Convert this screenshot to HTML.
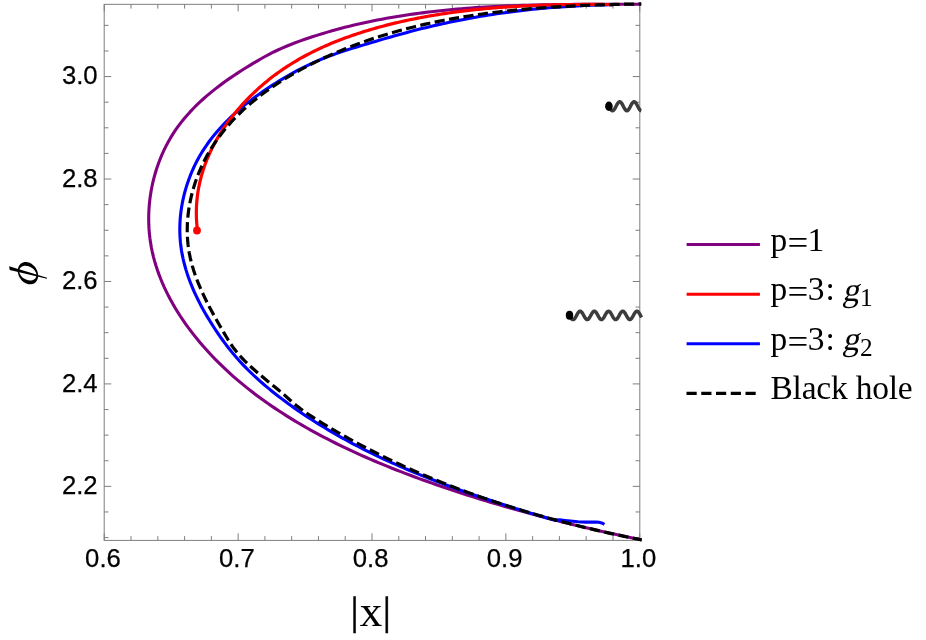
<!DOCTYPE html>
<html><head><meta charset="utf-8"><title>plot</title>
<style>
html,body{margin:0;padding:0;background:#fff;}
body{width:926px;height:640px;overflow:hidden;}
svg{display:block;}
.t{font-family:"Liberation Sans",sans-serif;fill:#000;stroke:#000;stroke-width:0.25px;}
.s{font-family:"Liberation Serif",serif;fill:#000;}
</style></head><body>
<svg width="926" height="640" viewBox="0 0 926 640">
<rect width="926" height="640" fill="#fff"/>
<g stroke="#7e7e7e" stroke-width="1" fill="none">
<rect x="104.20" y="4.33" width="535.60" height="536.07"/>
<path d="M104.26 540.40 v-7.10 M104.26 4.33 v7.10 M131.03 540.40 v-4.30 M131.03 4.33 v4.30 M157.81 540.40 v-4.30 M157.81 4.33 v4.30 M184.58 540.40 v-4.30 M184.58 4.33 v4.30 M211.36 540.40 v-4.30 M211.36 4.33 v4.30 M238.13 540.40 v-7.10 M238.13 4.33 v7.10 M264.90 540.40 v-4.30 M264.90 4.33 v4.30 M291.68 540.40 v-4.30 M291.68 4.33 v4.30 M318.45 540.40 v-4.30 M318.45 4.33 v4.30 M345.23 540.40 v-4.30 M345.23 4.33 v4.30 M372.00 540.40 v-7.10 M372.00 4.33 v7.10 M398.77 540.40 v-4.30 M398.77 4.33 v4.30 M425.55 540.40 v-4.30 M425.55 4.33 v4.30 M452.32 540.40 v-4.30 M452.32 4.33 v4.30 M479.10 540.40 v-4.30 M479.10 4.33 v4.30 M505.87 540.40 v-7.10 M505.87 4.33 v7.10 M532.64 540.40 v-4.30 M532.64 4.33 v4.30 M559.42 540.40 v-4.30 M559.42 4.33 v4.30 M586.19 540.40 v-4.30 M586.19 4.33 v4.30 M612.97 540.40 v-4.30 M612.97 4.33 v4.30 M639.74 540.40 v-7.10 M639.74 4.33 v7.10 M104.20 537.57 h4.30 M639.80 537.57 h-4.30 M104.20 511.96 h4.30 M639.80 511.96 h-4.30 M104.20 486.35 h7.10 M639.80 486.35 h-7.10 M104.20 460.74 h4.30 M639.80 460.74 h-4.30 M104.20 435.13 h4.30 M639.80 435.13 h-4.30 M104.20 409.52 h4.30 M639.80 409.52 h-4.30 M104.20 383.91 h7.10 M639.80 383.91 h-7.10 M104.20 358.30 h4.30 M639.80 358.30 h-4.30 M104.20 332.69 h4.30 M639.80 332.69 h-4.30 M104.20 307.08 h4.30 M639.80 307.08 h-4.30 M104.20 281.47 h7.10 M639.80 281.47 h-7.10 M104.20 255.86 h4.30 M639.80 255.86 h-4.30 M104.20 230.25 h4.30 M639.80 230.25 h-4.30 M104.20 204.64 h4.30 M639.80 204.64 h-4.30 M104.20 179.03 h7.10 M639.80 179.03 h-7.10 M104.20 153.42 h4.30 M639.80 153.42 h-4.30 M104.20 127.81 h4.30 M639.80 127.81 h-4.30 M104.20 102.20 h4.30 M639.80 102.20 h-4.30 M104.20 76.59 h7.10 M639.80 76.59 h-7.10 M104.20 50.98 h4.30 M639.80 50.98 h-4.30 M104.20 25.37 h4.30 M639.80 25.37 h-4.30"/>
</g>
<g fill="none" stroke-linecap="butt" stroke-linejoin="round">
<path d="M641.28 4.21 L636.56 4.23 L631.84 4.24 L627.11 4.25 L622.38 4.26 L617.65 4.27 L612.93 4.28 L608.19 4.29 L603.46 4.30 L598.73 4.31 L594.00 4.32 L589.27 4.34 L584.53 4.36 L579.80 4.39 L575.06 4.42 L570.33 4.46 L565.59 4.51 L560.86 4.56 L556.12 4.63 L551.39 4.70 L546.65 4.78 L541.92 4.87 L537.19 4.97 L532.45 5.09 L527.72 5.21 L522.99 5.35 L518.26 5.51 L513.53 5.68 L508.80 5.86 L504.07 6.06 L499.35 6.28 L494.62 6.51 L489.90 6.76 L485.18 7.04 L480.46 7.33 L475.74 7.64 L471.03 7.97 L466.31 8.32 L461.60 8.70 L456.89 9.10 L452.18 9.52 L447.48 9.97 L442.77 10.44 L438.07 10.94 L433.38 11.46 L428.68 12.01 L423.99 12.59 L419.30 13.20 L414.61 13.84 L409.93 14.50 L405.25 15.20 L400.58 15.93 L395.90 16.69 L391.24 17.49 L386.57 18.31 L381.92 19.17 L377.27 20.07 L372.62 21.00 L367.98 21.97 L363.35 22.97 L358.73 24.01 L354.12 25.08 L349.52 26.20 L344.92 27.35 L340.34 28.55 L335.77 29.78 L331.21 31.05 L326.66 32.37 L322.12 33.73 L317.60 35.13 L313.09 36.57 L308.60 38.06 L304.12 39.59 L299.65 41.16 L295.22 42.80 L290.81 44.49 L286.45 46.24 L282.13 48.07 L277.87 49.98 L273.68 51.98 L269.56 54.08 L265.50 56.25 L261.47 58.50 L257.47 60.81 L253.47 63.17 L249.47 65.58 L245.48 68.03 L241.50 70.54 L237.53 73.09 L233.59 75.70 L229.67 78.37 L225.79 81.09 L221.95 83.87 L218.15 86.72 L214.40 89.63 L210.71 92.60 L207.08 95.64 L203.52 98.75 L200.03 101.94 L196.62 105.19 L193.29 108.53 L190.06 111.94 L186.92 115.43 L183.88 119.00 L180.94 122.65 L178.12 126.39 L175.42 130.22 L172.84 134.14 L170.38 138.14 L168.06 142.23 L165.86 146.40 L163.79 150.63 L161.85 154.94 L160.04 159.31 L158.36 163.73 L156.81 168.21 L155.39 172.73 L154.11 177.30 L152.96 181.90 L151.95 186.54 L151.07 191.20 L150.33 195.89 L149.73 200.59 L149.26 205.30 L148.93 210.02 L148.74 214.75 L148.69 219.47 L148.79 224.18 L149.02 228.88 L149.40 233.56 L149.92 238.22 L150.58 242.85 L151.38 247.45 L152.32 252.02 L153.40 256.56 L154.60 261.07 L155.93 265.54 L157.38 269.98 L158.95 274.38 L160.64 278.75 L162.44 283.08 L164.34 287.37 L166.35 291.61 L168.45 295.82 L170.66 299.99 L172.95 304.11 L175.34 308.19 L177.81 312.22 L180.36 316.21 L182.99 320.15 L185.69 324.04 L188.46 327.88 L191.30 331.67 L194.21 335.41 L197.17 339.09 L200.19 342.73 L203.26 346.31 L206.39 349.84 L209.57 353.32 L212.80 356.75 L216.08 360.13 L219.41 363.45 L222.79 366.73 L226.22 369.97 L229.69 373.15 L233.20 376.29 L236.76 379.38 L240.35 382.42 L243.99 385.42 L247.67 388.38 L251.38 391.29 L255.13 394.16 L258.92 396.98 L262.73 399.76 L266.58 402.50 L270.47 405.20 L274.38 407.86 L278.32 410.48 L282.28 413.06 L286.27 415.60 L290.29 418.10 L294.33 420.56 L298.39 422.99 L302.47 425.38 L306.58 427.73 L310.70 430.05 L314.84 432.33 L319.00 434.58 L323.17 436.80 L327.37 438.98 L331.58 441.13 L335.80 443.25 L340.04 445.34 L344.30 447.40 L348.57 449.43 L352.86 451.43 L357.16 453.40 L361.47 455.34 L365.80 457.25 L370.14 459.14 L374.49 461.00 L378.85 462.84 L383.22 464.65 L387.60 466.44 L392.00 468.21 L396.40 469.95 L400.81 471.67 L405.23 473.37 L409.66 475.04 L414.09 476.70 L418.53 478.34 L422.98 479.95 L427.44 481.55 L431.90 483.13 L436.36 484.70 L440.83 486.24 L445.30 487.77 L449.78 489.29 L454.27 490.79 L458.75 492.27 L463.25 493.73 L467.74 495.18 L472.25 496.61 L476.75 498.03 L481.26 499.43 L485.78 500.82 L490.30 502.19 L494.82 503.54 L499.35 504.88 L503.88 506.21 L508.42 507.52 L512.96 508.82 L517.51 510.10 L522.06 511.37 L526.61 512.63 L531.17 513.87 L535.73 515.09 L540.30 516.31 L544.87 517.51 L549.45 518.70 L554.03 519.87 L558.61 521.03 L563.20 522.18 L567.79 523.32 L572.38 524.44 L576.98 525.55 L581.58 526.65 L586.19 527.74 L590.80 528.81 L595.41 529.88 L600.03 530.93 L604.65 531.97 L609.27 533.00 L613.90 534.02 L618.54 535.02 L623.17 536.02 L627.81 537.01 L632.45 537.98 L637.10 538.95 L641.75 539.91" stroke="#800080" stroke-width="3.10"/>
<path d="M612.99 4.72 L608.97 4.78 L604.96 4.85 L600.94 4.94 L596.92 5.05 L592.90 5.18 L588.88 5.32 L584.87 5.49 L580.85 5.67 L576.83 5.87 L572.81 6.09 L568.80 6.33 L564.78 6.58 L560.77 6.86 L556.75 7.15 L552.74 7.46 L548.73 7.79 L544.72 8.14 L540.71 8.51 L536.71 8.90 L532.70 9.30 L528.70 9.73 L524.70 10.17 L520.70 10.63 L516.70 11.12 L512.71 11.62 L508.72 12.14 L504.73 12.68 L500.75 13.24 L496.77 13.82 L492.79 14.42 L488.81 15.03 L484.84 15.67 L480.87 16.33 L476.91 17.01 L472.95 17.70 L468.99 18.42 L465.04 19.16 L461.09 19.92 L457.15 20.69 L453.21 21.49 L449.28 22.31 L445.35 23.15 L441.42 24.00 L437.50 24.88 L433.59 25.78 L429.68 26.70 L425.77 27.64 L421.88 28.60 L417.98 29.58 L414.09 30.58 L410.21 31.60 L406.33 32.63 L402.45 33.68 L398.58 34.74 L394.71 35.82 L390.84 36.91 L386.97 38.02 L383.11 39.13 L379.24 40.26 L375.38 41.40 L371.51 42.54 L367.65 43.70 L363.78 44.86 L359.92 46.02 L356.05 47.20 L352.19 48.39 L348.33 49.59 L344.49 50.82 L340.66 52.09 L336.84 53.38 L333.05 54.72 L329.28 56.10 L325.53 57.54 L321.82 59.03 L318.13 60.58 L314.47 62.18 L310.84 63.83 L307.24 65.54 L303.66 67.29 L300.11 69.10 L296.58 70.95 L293.07 72.85 L289.58 74.79 L286.12 76.78 L282.67 78.81 L279.25 80.88 L275.84 83.00 L272.45 85.15 L269.08 87.34 L265.73 89.58 L262.40 91.85 L259.10 94.16 L255.83 96.52 L252.59 98.92 L249.38 101.36 L246.21 103.85 L243.08 106.39 L239.99 108.97 L236.95 111.60 L233.96 114.28 L231.02 117.01 L228.14 119.79 L225.31 122.63 L222.54 125.52 L219.84 128.46 L217.20 131.45 L214.64 134.51 L212.14 137.62 L209.72 140.78 L207.38 144.01 L205.12 147.30 L202.94 150.65 L200.85 154.06 L198.85 157.53 L196.94 161.06 L195.12 164.65 L193.40 168.28 L191.77 171.97 L190.24 175.70 L188.81 179.48 L187.48 183.29 L186.25 187.14 L185.12 191.01 L184.09 194.92 L183.17 198.85 L182.36 202.79 L181.66 206.76 L181.06 210.74 L180.58 214.73 L180.21 218.73 L179.96 222.73 L179.82 226.72 L179.80 230.72 L179.90 234.71 L180.12 238.68 L180.46 242.64 L180.92 246.59 L181.49 250.52 L182.18 254.42 L182.98 258.31 L183.89 262.18 L184.90 266.03 L186.00 269.85 L187.20 273.65 L188.49 277.43 L189.87 281.18 L191.33 284.91 L192.86 288.61 L194.47 292.28 L196.16 295.92 L197.91 299.53 L199.72 303.12 L201.59 306.67 L203.52 310.19 L205.50 313.67 L207.53 317.12 L209.60 320.54 L211.71 323.92 L213.86 327.26 L216.04 330.56 L218.24 333.83 L220.48 337.06 L222.74 340.24 L225.04 343.39 L227.39 346.50 L229.79 349.57 L232.24 352.60 L234.75 355.59 L237.32 358.54 L239.94 361.46 L242.62 364.34 L245.34 367.18 L248.12 369.99 L250.95 372.76 L253.83 375.50 L256.76 378.21 L259.73 380.87 L262.74 383.51 L265.79 386.11 L268.87 388.68 L271.99 391.22 L275.14 393.73 L278.32 396.20 L281.52 398.64 L284.74 401.06 L287.99 403.44 L291.25 405.80 L294.53 408.12 L297.82 410.42 L301.13 412.69 L304.46 414.93 L307.80 417.14 L311.16 419.32 L314.53 421.48 L317.91 423.61 L321.31 425.72 L324.73 427.80 L328.16 429.85 L331.60 431.88 L335.05 433.88 L338.52 435.86 L342.00 437.81 L345.50 439.75 L349.01 441.65 L352.53 443.54 L356.06 445.40 L359.60 447.23 L363.16 449.05 L366.73 450.85 L370.30 452.62 L373.89 454.37 L377.49 456.10 L381.10 457.81 L384.73 459.50 L388.36 461.17 L392.00 462.82 L395.65 464.45 L399.31 466.07 L402.98 467.66 L406.66 469.24 L410.34 470.80 L414.04 472.34 L417.74 473.86 L421.46 475.37 L425.18 476.86 L428.90 478.34 L432.64 479.80 L436.38 481.24 L440.13 482.67 L443.89 484.08 L447.65 485.48 L451.42 486.87 L455.19 488.24 L458.97 489.60 L462.76 490.95 L466.55 492.28 L470.35 493.60 L474.15 494.91 L477.96 496.21 L481.77 497.50 L485.58 498.77 L489.40 500.04 L493.23 501.29 L497.05 502.54 L500.88 503.77 L504.72 505.00 L508.55 506.22 L512.39 507.43 L516.23 508.63 L520.08 509.82 L523.92 511.01 L527.77 512.18 L531.62 513.36 L535.47 514.52 L539.32 515.68 L543.17 516.83 L547.02 517.98 L550.88 519.13 L554.73 520.26 L559.70 519.90 L565.00 520.50 L570.30 521.00 L578.00 521.70 L585.50 522.10 L591.00 522.10 L596.00 522.00 L599.00 522.30 L601.50 522.90 L603.30 523.70 L604.40 524.40" stroke="#0000ff" stroke-width="3.10"/>
<path d="M612.99 4.55 L610.93 4.53 L608.87 4.52 L606.81 4.50 L604.75 4.49 L602.69 4.47 L600.63 4.46 L598.57 4.46 L596.51 4.45 L594.44 4.45 L592.38 4.44 L590.32 4.44 L588.26 4.45 L586.20 4.45 L584.13 4.46 L582.07 4.47 L580.01 4.48 L577.95 4.50 L575.88 4.51 L573.82 4.53 L571.76 4.56 L569.69 4.58 L567.63 4.61 L565.57 4.64 L563.51 4.67 L561.44 4.71 L559.38 4.75 L557.32 4.79 L555.25 4.84 L553.19 4.89 L551.13 4.94 L549.06 5.00 L547.00 5.06 L544.94 5.12 L542.87 5.19 L540.81 5.26 L538.75 5.33 L536.69 5.41 L534.62 5.49 L532.56 5.57 L530.50 5.66 L528.44 5.76 L526.38 5.85 L524.32 5.95 L522.26 6.06 L520.20 6.17 L518.14 6.28 L516.08 6.40 L514.02 6.52 L511.96 6.64 L509.90 6.78 L507.84 6.91 L505.78 7.05 L503.73 7.19 L501.67 7.34 L499.61 7.50 L497.56 7.65 L495.50 7.82 L493.44 7.98 L491.39 8.16 L489.34 8.34 L487.28 8.52 L485.23 8.71 L483.18 8.90 L481.12 9.10 L479.07 9.30 L477.02 9.51 L474.97 9.73 L472.92 9.95 L470.87 10.17 L468.83 10.40 L466.78 10.64 L464.73 10.88 L462.69 11.13 L460.64 11.38 L458.60 11.64 L456.55 11.91 L454.51 12.18 L452.47 12.46 L450.43 12.74 L448.39 13.03 L446.35 13.33 L444.31 13.63 L442.27 13.94 L440.23 14.25 L438.20 14.58 L436.16 14.90 L434.13 15.24 L432.09 15.58 L430.06 15.93 L428.03 16.28 L426.00 16.64 L423.97 17.01 L421.94 17.39 L419.91 17.77 L417.89 18.16 L415.86 18.56 L413.84 18.96 L411.82 19.37 L409.80 19.79 L407.78 20.22 L405.76 20.65 L403.74 21.09 L401.73 21.54 L399.72 22.00 L397.71 22.46 L395.70 22.93 L393.69 23.41 L391.68 23.90 L389.68 24.40 L387.68 24.91 L385.68 25.42 L383.68 25.94 L381.69 26.47 L379.70 27.01 L377.71 27.56 L375.72 28.12 L373.74 28.69 L371.75 29.26 L369.77 29.85 L367.80 30.44 L365.82 31.04 L363.85 31.65 L361.88 32.28 L359.92 32.91 L357.95 33.55 L355.99 34.20 L354.04 34.86 L352.09 35.53 L350.14 36.21 L348.19 36.90 L346.25 37.60 L344.31 38.31 L342.38 39.03 L340.45 39.77 L338.53 40.51 L336.61 41.27 L334.69 42.04 L332.78 42.81 L330.88 43.60 L328.98 44.41 L327.09 45.22 L325.20 46.05 L323.32 46.89 L321.45 47.74 L319.58 48.61 L317.72 49.48 L315.86 50.37 L314.01 51.28 L312.17 52.19 L310.34 53.12 L308.51 54.06 L306.69 55.02 L304.88 55.99 L303.08 56.97 L301.28 57.97 L299.50 58.98 L297.72 60.00 L295.95 61.04 L294.19 62.09 L292.44 63.16 L290.69 64.24 L288.96 65.33 L287.23 66.44 L285.52 67.56 L283.81 68.70 L282.12 69.85 L280.43 71.02 L278.76 72.20 L277.09 73.40 L275.44 74.61 L273.80 75.84 L272.17 77.08 L270.54 78.34 L268.93 79.61 L267.34 80.90 L265.75 82.20 L264.17 83.52 L262.61 84.85 L261.06 86.20 L259.52 87.56 L257.99 88.93 L256.47 90.32 L254.97 91.72 L253.48 93.14 L252.00 94.57 L250.54 96.01 L249.09 97.47 L247.65 98.94 L246.22 100.42 L244.81 101.91 L243.41 103.42 L242.02 104.94 L240.65 106.47 L239.29 108.02 L237.95 109.57 L236.62 111.14 L235.31 112.72 L234.01 114.31 L232.73 115.92 L231.46 117.54 L230.21 119.16 L228.98 120.80 L227.77 122.46 L226.57 124.12 L225.39 125.80 L224.23 127.48 L223.09 129.18 L221.97 130.89 L220.87 132.61 L219.78 134.35 L218.72 136.09 L217.68 137.85 L216.66 139.61 L215.66 141.39 L214.68 143.18 L213.72 144.98 L212.79 146.79 L211.87 148.61 L210.98 150.44 L210.12 152.29 L209.27 154.14 L208.46 156.00 L207.66 157.87 L206.89 159.76 L206.14 161.65 L205.42 163.55 L204.72 165.46 L204.05 167.38 L203.41 169.31 L202.79 171.25 L202.20 173.20 L201.63 175.15 L201.09 177.12 L200.58 179.09 L200.09 181.07 L199.64 183.06 L199.21 185.05 L198.81 187.06 L198.44 189.07 L198.10 191.09 L197.78 193.12 L197.50 195.15 L197.25 197.19 L197.03 199.24 L196.83 201.29 L196.67 203.35 L196.54 205.42 L196.44 207.49 L196.38 209.57 L196.34 211.65 L196.34 213.74 L196.37 215.84 L196.43 217.94 L196.53 220.04 L196.66 222.16 L196.82 224.27 L197.02 226.39 L197.25 228.52 L197.52 230.65" stroke="#ff0000" stroke-width="3.20"/>
<path d="M641.68 539.89 L637.34 539.03 L633.00 538.15 L628.67 537.26 L624.34 536.36 L620.00 535.44 L615.68 534.51 L611.35 533.57 L607.02 532.61 L602.70 531.63 L598.38 530.64 L594.07 529.64 L589.75 528.62 L585.45 527.59 L581.14 526.54 L576.84 525.48 L572.54 524.40 L568.24 523.30 L563.95 522.19 L559.66 521.07 L555.38 519.92 L551.10 518.76 L546.83 517.59 L542.56 516.40 L538.29 515.19 L534.03 513.96 L529.78 512.72 L525.53 511.46 L521.28 510.19 L517.05 508.89 L512.81 507.58 L508.59 506.25 L504.36 504.91 L500.15 503.54 L495.94 502.16 L491.74 500.76 L487.54 499.34 L483.35 497.90 L479.17 496.45 L474.99 494.97 L470.83 493.48 L466.67 491.96 L462.51 490.43 L458.37 488.88 L454.23 487.31 L450.10 485.72 L445.97 484.10 L441.86 482.47 L437.75 480.82 L433.66 479.15 L429.57 477.46 L425.49 475.75 L421.41 474.01 L417.35 472.26 L413.30 470.48 L409.25 468.69 L405.22 466.87 L401.19 465.03 L397.18 463.17 L393.17 461.29 L389.18 459.39 L385.19 457.46 L381.21 455.51 L377.25 453.54 L373.30 451.55 L369.35 449.53 L365.42 447.49 L361.50 445.43 L357.59 443.35 L353.69 441.24 L349.80 439.11 L345.92 436.96 L342.06 434.78 L338.21 432.58 L334.37 430.35 L330.54 428.10 L326.72 425.83 L322.92 423.53 L319.13 421.21 L315.36 418.85 L311.64 416.46 L307.98 414.03 L304.39 411.54 L300.90 409.00 L297.51 406.39 L294.24 403.71 L291.09 400.97 L288.00 398.20 L284.85 395.41 L281.60 392.63 L278.28 389.84 L274.88 387.05 L271.45 384.24 L267.98 381.41 L264.50 378.55 L261.04 375.67 L257.59 372.75 L254.20 369.78 L250.86 366.78 L247.60 363.71 L244.45 360.60 L241.40 357.41 L238.50 354.16 L235.74 350.84 L233.16 347.43 L230.75 343.95 L228.48 340.39 L226.30 336.78 L224.14 333.12 L221.99 329.44 L219.83 325.72 L217.68 321.97 L215.54 318.19 L213.43 314.38 L211.33 310.53 L209.28 306.65 L207.26 302.74 L205.29 298.78 L203.38 294.79 L201.54 290.77 L199.76 286.71 L198.08 282.62 L196.48 278.50 L194.98 274.34 L193.59 270.16 L192.32 265.94 L191.17 261.69 L190.16 257.41 L189.29 253.10 L188.58 248.77 L188.02 244.41 L187.61 240.03 L187.35 235.63 L187.24 231.22 L187.28 226.80 L187.46 222.37 L187.78 217.95 L188.23 213.53 L188.82 209.12 L189.54 204.73 L190.40 200.35 L191.38 195.99 L192.48 191.67 L193.71 187.37 L195.05 183.10 L196.51 178.88 L198.09 174.70 L199.77 170.57 L201.57 166.50 L203.47 162.47 L205.48 158.52 L207.58 154.62 L209.79 150.80 L212.09 147.05 L214.48 143.37 L216.96 139.75 L219.54 136.21 L222.19 132.73 L224.93 129.32 L227.75 125.98 L230.65 122.70 L233.63 119.48 L236.67 116.33 L239.79 113.24 L242.97 110.21 L246.22 107.24 L249.54 104.34 L252.91 101.49 L256.34 98.70 L259.82 95.97 L263.36 93.29 L266.95 90.67 L270.58 88.11 L274.26 85.60 L277.98 83.14 L281.74 80.73 L285.53 78.38 L289.36 76.08 L293.23 73.83 L297.12 71.62 L301.04 69.47 L304.98 67.36 L308.95 65.30 L312.93 63.29 L316.93 61.32 L320.95 59.39 L324.98 57.51 L329.02 55.67 L333.08 53.88 L337.15 52.12 L341.24 50.41 L345.34 48.74 L349.46 47.11 L353.58 45.52 L357.72 43.98 L361.88 42.47 L366.04 40.99 L370.22 39.56 L374.41 38.17 L378.61 36.81 L382.82 35.49 L387.04 34.20 L391.27 32.95 L395.52 31.74 L399.77 30.56 L404.03 29.41 L408.30 28.30 L412.59 27.22 L416.88 26.17 L421.18 25.16 L425.48 24.18 L429.80 23.22 L434.12 22.30 L438.45 21.41 L442.79 20.55 L447.14 19.72 L451.49 18.91 L455.85 18.13 L460.21 17.38 L464.58 16.66 L468.96 15.97 L473.34 15.30 L477.73 14.65 L482.12 14.03 L486.52 13.43 L490.92 12.86 L495.32 12.31 L499.73 11.79 L504.15 11.28 L508.56 10.80 L512.98 10.34 L517.40 9.90 L521.82 9.48 L526.25 9.08 L530.68 8.70 L535.11 8.34 L539.54 8.00 L543.97 7.67 L548.40 7.36 L552.83 7.07 L557.27 6.79 L561.70 6.53 L566.13 6.29 L570.57 6.05 L575.00 5.84 L579.43 5.63 L583.86 5.44 L588.28 5.27 L592.71 5.10 L597.13 4.94 L601.55 4.80 L605.97 4.67 L610.39 4.55 L614.80 4.43 L619.21 4.33 L623.61 4.23 L628.01 4.14 L632.41 4.06 L636.80 3.99 L641.18 3.92" stroke="#000" stroke-width="3.20" stroke-dasharray="10.20 4.45" stroke-dashoffset="1.20"/>
</g>
<circle cx="197.0" cy="230.5" r="3.9" fill="#ff0000"/>
<path d="M608.90 106.20 L609.50 107.36 L610.10 108.45 L610.70 109.38 L611.30 110.10 L611.90 110.55 L612.50 110.70 L613.10 110.55 L613.70 110.10 L614.30 109.38 L614.90 108.45 L615.50 107.36 L616.10 106.20 L616.70 105.04 L617.30 103.95 L617.90 103.02 L618.50 102.30 L619.10 101.85 L619.70 101.70 L620.30 101.85 L620.90 102.30 L621.50 103.02 L622.10 103.95 L622.70 105.04 L623.30 106.20 L623.90 107.36 L624.50 108.45 L625.10 109.38 L625.70 110.10 L626.30 110.55 L626.90 110.70 L627.50 110.55 L628.10 110.10 L628.70 109.38 L629.30 108.45 L629.90 107.36 L630.50 106.20 L631.10 105.04 L631.70 103.95 L632.30 103.02 L632.90 102.30 L633.50 101.85 L634.10 101.70 L634.70 101.85 L635.30 102.30 L635.90 103.02 L636.50 103.95 L637.10 105.04 L637.70 106.20 L638.30 107.36 L638.90 108.45 L639.50 109.38 L640.10 110.10 L640.70 110.55 L641.30 110.70" fill="none" stroke="#3c3c3c" stroke-width="3.5" stroke-linejoin="round"/>
<ellipse cx="608.9" cy="106.2" rx="3.8" ry="4.7" fill="#000"/>
<path d="M569.50 315.40 L570.10 316.50 L570.69 317.51 L571.29 318.39 L571.88 319.05 L572.48 319.47 L573.08 319.60 L573.67 319.44 L574.27 319.00 L574.87 318.32 L575.46 317.43 L576.06 316.40 L576.65 315.30 L577.25 314.21 L577.85 313.20 L578.44 312.34 L579.04 311.70 L579.63 311.31 L580.23 311.20 L580.83 311.39 L581.42 311.85 L582.02 312.56 L582.62 313.46 L583.21 314.50 L583.81 315.60 L584.40 316.69 L585.00 317.69 L585.60 318.53 L586.19 319.15 L586.79 319.51 L587.38 319.59 L587.98 319.38 L588.58 318.90 L589.17 318.17 L589.77 317.25 L590.37 316.20 L590.96 315.10 L591.56 314.02 L592.15 313.03 L592.75 312.21 L593.35 311.61 L593.94 311.27 L594.54 311.21 L595.14 311.45 L595.73 311.96 L596.33 312.71 L596.92 313.64 L597.52 314.70 L598.12 315.80 L598.71 316.88 L599.31 317.85 L599.90 318.66 L600.50 319.23 L601.10 319.55 L601.69 319.58 L602.29 319.31 L602.89 318.78 L603.48 318.01 L604.08 317.07 L604.67 316.00 L605.27 314.90 L605.87 313.83 L606.46 312.87 L607.06 312.08 L607.65 311.53 L608.25 311.24 L608.85 311.24 L609.44 311.52 L610.04 312.08 L610.64 312.86 L611.23 313.83 L611.83 314.90 L612.42 316.00 L613.02 317.06 L613.62 318.01 L614.21 318.78 L614.81 319.31 L615.40 319.58 L616.00 319.55 L616.60 319.24 L617.19 318.66 L617.79 317.85 L618.39 316.88 L618.98 315.81 L619.58 314.70 L620.17 313.65 L620.77 312.71 L621.37 311.96 L621.96 311.45 L622.56 311.22 L623.15 311.27 L623.75 311.61 L624.35 312.21 L624.94 313.03 L625.54 314.01 L626.14 315.09 L626.73 316.20 L627.33 317.25 L627.92 318.17 L628.52 318.89 L629.12 319.38 L629.71 319.59 L630.31 319.51 L630.91 319.15 L631.50 318.53 L632.10 317.69 L632.69 316.69 L633.29 315.60 L633.89 314.50 L634.48 313.47 L635.08 312.56 L635.67 311.85 L636.27 311.39 L636.87 311.20 L637.46 311.31 L638.06 311.70 L638.66 312.34 L639.25 313.20 L639.85 314.20 L640.44 315.30 L641.04 316.39 L641.64 317.42" fill="none" stroke="#3c3c3c" stroke-width="3.5" stroke-linejoin="round"/>
<ellipse cx="569.5" cy="315.3" rx="3.7" ry="4.5" fill="#000"/>
<path d="M34.44 283.13 L33.37 283.72 L32.20 284.12 L30.95 284.34 L29.66 284.36 L28.33 284.20 L27.00 283.84 L25.68 283.30 L24.41 282.59 L23.19 281.72 L22.05 280.71 L21.02 279.56 L20.10 278.30 L19.32 276.96 L18.68 275.55 L18.20 274.11 L17.89 272.64 L17.75 271.19 L17.79 269.77 L18.00 268.40 L18.38 267.12 L18.92 265.95 L19.61 264.89 L20.45 263.98 L21.42 263.23 L22.50 262.64 L23.67 262.24 L24.91 262.02 L26.21 262.00 L27.53 262.16 L28.86 262.52 L30.18 263.06 L31.46 263.77 L32.67 264.64 L33.81 265.65 L34.85 266.80 L35.76 268.06 L36.55 269.40 L37.18 270.81 L37.66 272.25 L37.97 273.72 L38.11 275.17 L38.07 276.59 L37.87 277.96 L37.49 279.24 L36.95 280.41 L36.25 281.47 L35.41 282.38Z M35.72 277.71 L36.09 276.92 L36.31 276.08 L36.39 275.18 L36.32 274.24 L36.10 273.29 L35.74 272.33 L35.25 271.39 L34.63 270.48 L33.89 269.61 L33.05 268.80 L32.12 268.07 L31.12 267.42 L30.06 266.87 L28.96 266.43 L27.84 266.10 L26.72 265.89 L25.62 265.81 L24.56 265.85 L23.55 266.01 L22.61 266.30 L21.77 266.70 L21.03 267.22 L20.40 267.83 L19.90 268.53 L19.54 269.32 L19.31 270.17 L19.24 271.07 L19.31 272.00 L19.52 272.95 L19.88 273.91 L20.37 274.85 L20.99 275.77 L21.73 276.63 L22.57 277.44 L23.50 278.18 L24.51 278.82 L25.57 279.37 L26.67 279.82 L27.79 280.14 L28.91 280.35 L30.01 280.44 L31.07 280.40 L32.08 280.23 L33.01 279.94 L33.86 279.54 L34.60 279.03 L35.22 278.41Z" fill="#000" fill-rule="evenodd"/>
<path d="M9.11 266.23 L47.11 277.87 L46.87 278.70 L9.70 270.03Z" fill="#000"/>
<line x1="686.6" y1="244.60" x2="759.9" y2="244.60" stroke="#800080" stroke-width="3"/>
<line x1="686.6" y1="294.20" x2="759.9" y2="294.20" stroke="#ff0000" stroke-width="3"/>
<line x1="686.6" y1="343.80" x2="759.9" y2="343.80" stroke="#0000ff" stroke-width="3"/>
<line x1="686.5" y1="393.40" x2="759.9" y2="393.40" stroke="#000" stroke-width="3.3" stroke-dasharray="10.2 4.55"/>
<g style="filter:grayscale(1)">
<text class="t" x="102.96" y="567.2" font-size="25.7" text-anchor="middle">0.6</text>
<text class="t" x="236.83" y="567.2" font-size="25.7" text-anchor="middle">0.7</text>
<text class="t" x="370.70" y="567.2" font-size="25.7" text-anchor="middle">0.8</text>
<text class="t" x="504.57" y="567.2" font-size="25.7" text-anchor="middle">0.9</text>
<text class="t" x="638.44" y="567.2" font-size="25.7" text-anchor="middle">1.0</text>
<text class="t" x="97.6" y="493.95" font-size="25.7" text-anchor="end">2.2</text>
<text class="t" x="97.6" y="391.51" font-size="25.7" text-anchor="end">2.4</text>
<text class="t" x="97.6" y="289.07" font-size="25.7" text-anchor="end">2.6</text>
<text class="t" x="97.6" y="186.63" font-size="25.7" text-anchor="end">2.8</text>
<text class="t" x="97.6" y="84.19" font-size="25.7" text-anchor="end">3.0</text>
<text class="s" x="354.5" y="624.3" font-size="40.9" text-anchor="middle" stroke="#000" stroke-width="0.5">|</text>
<text class="s" x="359.85" y="625.8" font-size="45.0">x</text>
<text class="s" x="386.9" y="624.3" font-size="40.9" text-anchor="middle" stroke="#000" stroke-width="0.5">|</text>
<text class="s" x="770.5" y="250.50" font-size="33.5">p</text>
<text class="s" transform="translate(787.4 253.50) scale(1.1 1)" font-size="33.5">=</text>
<text class="s" x="807.6" y="250.50" font-size="33.5">1</text>
<text class="s" x="770.5" y="300.10" font-size="33.5">p</text>
<text class="s" transform="translate(787.4 303.10) scale(1.1 1)" font-size="33.5">=</text>
<text class="s" x="807.75" y="300.10" font-size="33.5">3</text>
<text class="s" x="825.55" y="300.10" font-size="33.5">:</text>
<text class="s" transform="translate(842.30 300.50) skewX(-12)" font-size="33.5">g</text>
<text class="s" x="859.90" y="306.00" font-size="25.3">1</text>
<text class="s" x="770.5" y="349.70" font-size="33.5">p</text>
<text class="s" transform="translate(787.4 352.70) scale(1.1 1)" font-size="33.5">=</text>
<text class="s" x="807.75" y="349.70" font-size="33.5">3</text>
<text class="s" x="825.55" y="349.70" font-size="33.5">:</text>
<text class="s" transform="translate(842.30 350.10) skewX(-12)" font-size="33.5">g</text>
<text class="s" x="859.90" y="355.60" font-size="25.3">2</text>
<text class="s" x="770.5" y="399.00" font-size="33.5" letter-spacing="-0.22">Black hole</text>
</g>
</svg>
</body></html>
